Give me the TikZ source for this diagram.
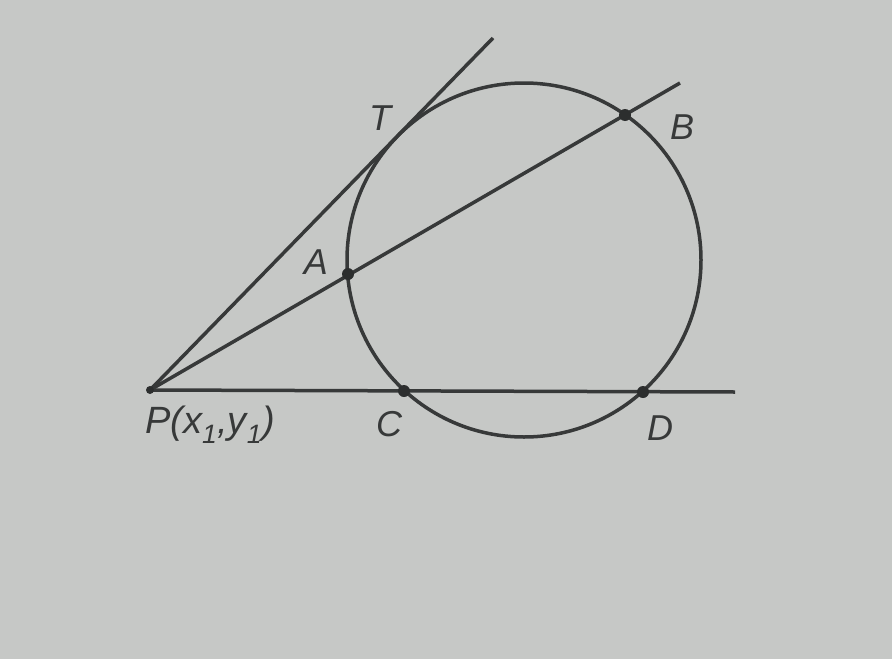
\documentclass[tikz,border=0pt]{standalone}
\usepackage{fontspec}
\setmainfont{Liberation Sans}
\definecolor{paper}{RGB}{198,200,198}
\definecolor{ink}{RGB}{55,57,57}
\begin{document}
\begin{tikzpicture}[x=1pt,y=-1pt,
  geo/.style={draw=ink,line width=3.5pt},
  pt/.style={circle,fill=ink!80!black,inner sep=0pt,minimum size=12pt},
  lab/.style={text=ink,font=\fontsize{36}{38}\selectfont\itshape,inner sep=0pt}]
\fill[paper] (0,0) rectangle (892,659);
\useasboundingbox (0,0) rectangle (892,659);
% geometry
\coordinate (O) at (524,260);
\coordinate (P) at (150,390);
\coordinate (Tend) at (493,38);
\coordinate (Bend) at (680,83);
\coordinate (Dend) at (735,392);
\draw[geo] (O) circle (177);
\draw[geo] (P) -- (Tend);
\draw[geo] (P) -- (Bend);
\draw[geo] (P) -- (Dend);
\node[pt] (A) at (348,274) {};
\node[pt] (B) at (625,115) {};
\node[pt] (C) at (404,391) {};
\node[pt] (D) at (643,392) {};
\node[pt,minimum size=8pt] (Pd) at (P) {};
% labels
\node[lab] (lT) at (380,118) {T};
\node[lab] (lB) at (682,127) {B};
\node[lab] (lA) at (316,262) {A};
\node[lab] (lC) at (389,424) {C};
\node[lab] (lD) at (660,428) {D};
\node[lab,font=\fontsize{38}{40}\selectfont\itshape] (lP) at (210,425) {P(x\textsubscript{1},y\textsubscript{1})};
\end{tikzpicture}
\end{document}
